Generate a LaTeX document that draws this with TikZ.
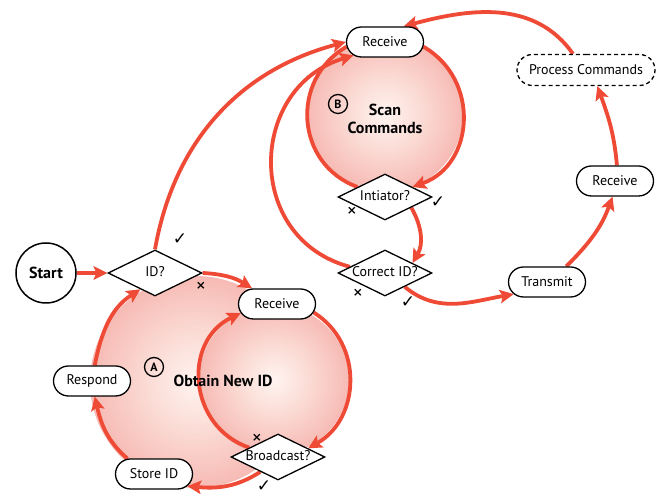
\documentclass[tikz,border=0pt]{standalone}
\usepackage{fontspec}
\setmainfont{PT Sans}
\newfontfamily\markfont{DejaVu Sans}
\usetikzlibrary{shapes.geometric,shapes.misc,arrows.meta}

\definecolor{flowred}{RGB}{238,74,54}
\definecolor{glowcore}{RGB}{255,244,240}
\definecolor{glowin}{RGB}{251,218,212}
\definecolor{glowmid}{RGB}{244,164,158}
\definecolor{glowedge}{RGB}{234,112,108}
\pgfdeclareradialshading{glow}{\pgfpoint{0bp}{0bp}}{color(0bp)=(glowcore); color(12bp)=(glowin); color(34bp)=(glowmid); color(50bp)=(glowedge)}

\pgfdeclarelayer{back}
\pgfsetlayers{back,main}

\begin{document}
\begin{tikzpicture}[x=1pt,y=1pt,
  box/.style={rounded rectangle, draw=black, line width=1.3pt, fill=white,
    minimum width=77pt, minimum height=30pt, inner sep=0pt,
    font=\fontsize{14}{14}\selectfont},
  test/.style={diamond, draw=black, line width=1.3pt, fill=white, aspect=2,
    minimum width=94pt, minimum height=46pt, inner sep=0pt,
    text height=8pt, text depth=0pt, font=\fontsize{14}{14}\selectfont},
  flow/.style={draw=flowred, line width=3.8pt,
    -{Stealth[length=14pt,width=14pt,inset=3pt,line width=0pt]}},
  rim/.style={draw=flowred, line width=3.8pt},
  yes/.style={font=\markfont\bfseries\fontsize{17}{17}\selectfont, inner sep=0pt},
  no/.style={font=\markfont\bfseries\fontsize{12}{12}\selectfont, inner sep=0pt},
  tag/.style={circle, draw=black, line width=1.3pt, minimum size=19pt,
    inner sep=0pt, font=\bfseries\fontsize{12}{12}\selectfont},
  title/.style={font=\bfseries\fontsize{16}{18}\selectfont, align=center}]

\useasboundingbox (0,0) rectangle (664,494);

% centres of the shaded loops
\coordinate (cA) at (196,112);
\coordinate (cI) at (274,114);
\coordinate (cB) at (385,380);

% steps
\node[circle, draw=black, line width=1.5pt, fill=white, minimum size=60pt,
  inner sep=0pt, font=\bfseries\fontsize{16}{16}\selectfont] (start) at (46,221) {Start};
\node[test] (id) at (155,221) {ID?};
\node[box] (recA) at (277,190) {Receive};
\node[box] (respond) at (92,113) {Respond};
\node[box] (store) at (154,20) {Store ID};
\node[test] (bcast) at (278,37) {Broadcast?};
\node[box] (recB) at (385,452) {Receive};
\node[box, dashed, dash pattern=on 4pt off 3pt, minimum width=138pt,
  minimum height=31pt] (proc) at (586,424) {Process Commands};
\node[box] (recR) at (615,313) {Receive};
\node[box] (tx) at (547,212) {Transmit};
\node[test] (init) at (385,297) {Intiator?};
\node[test] (cid) at (385,221) {Correct ID?};

% loop titles
\node[tag] (tagA) at (154,127) {A};
\node[title] (nameA) at (223,113) {Obtain New ID};
\node[tag] (tagB) at (338,390) {B};
\node[title] (nameB) at (385,375) {Scan\\Commands};

% branch marks
\node[yes] (okId) at (180,255) {✓};
\node[no] (noId) at (201,208) {×};
\node[no] (noBc) at (257,56) {×};
\node[yes] (okBc) at (264,8) {✓};
\node[no] (noInit) at (352,283) {×};
\node[yes] (okInit) at (438,292) {✓};
\node[no] (noCid) at (358,201) {×};
\node[yes] (okCid) at (408,192) {✓};

\begin{pgfonlayer}{back}
  \shade[shading=glow] (cA) circle[radius=106];
  \shade[shading=glow] (cI) circle[radius=75];
  \shade[shading=glow] (cB) circle[radius=78];

  \draw[flow] (start.east) -- (id.west);
  % loop A
  \draw[flow] (id.east) to[out=-3,in=148] (recA.148);
  \draw[flow] (bcast.220) to[out=213,in=-5] (store.-20);
  \draw[flow] (store.150) to[out=139,in=-77] (respond.-80);
  \draw[flow] (respond.80) to[out=79,in=213] (id.228);
  \draw[flow] (recA.-13) to[out=-32,in=30,looseness=1.12] (bcast.16);
  \draw[flow] (bcast.162) to[out=161,in=206,looseness=1.23] (recA.194);
  % loop B
  \draw[flow] (recB.-7) to[out=-30,in=20,looseness=1.2] (init.20);
  \draw[rim] (init.160) to[out=160,in=210,looseness=1.2] (recB.187);
  \draw[flow] (init.-22) to[out=-60,in=60] (cid.20);
  \draw[flow] (cid.-35) to[out=-40,in=190] (tx.200);
  \draw[flow] (tx.39) to[out=45,in=250] (recR.261);
  \draw[flow] (recR.83) to[out=95,in=-70] (proc.-55);
  \draw[flow] (proc.129) to[out=125,in=15] (recB.40);
  \draw[flow] (id.north) to[out=80,in=195] (recB.180);
  \draw[flow] (cid.170) to[out=165,in=197,looseness=1.33] (recB.203);
\end{pgfonlayer}
\end{tikzpicture}
\end{document}
